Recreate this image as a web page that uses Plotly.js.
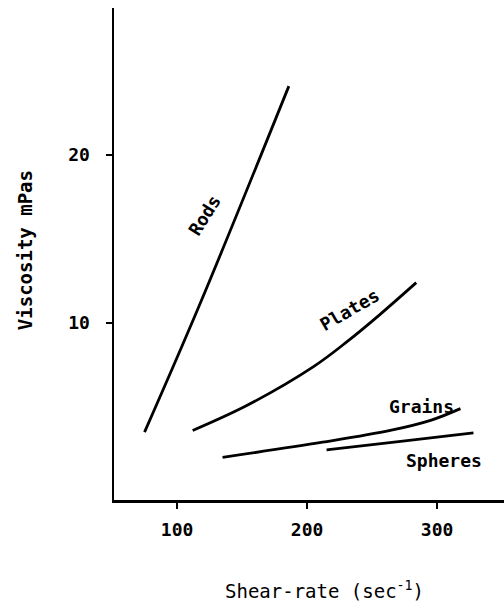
<!DOCTYPE html>
<html>
<head>
<meta charset="utf-8">
<script src="https://cdn.plot.ly/plotly-3.0.1.min.js"></script>
<style>
  html, body { margin: 0; padding: 0; background: #fff; }
  #chart { width: 504px; height: 607px; }
</style>
</head>
<body>
<div id="chart"></div>
<script>
// Viscosity against shear-rate for suspensions of differently shaped particles
const rodsX = [75, 118, 186];
const rodsY = [3.5, 11.2, 24.1];

const platesX = [112, 154, 205, 231, 256, 284];
const platesY = [3.6, 5.1, 7.4, 8.9, 10.5, 12.4];

const grainsX = [135, 212, 264, 295, 318];
const grainsY = [2.0, 2.9, 3.6, 4.2, 4.9];

const spheresX = [215, 272, 328];
const spheresY = [2.45, 2.95, 3.45];

const xTicks = [100, 200, 300];
const yTicks = [10, 20];

// curve labels: text, anchor point, rotation
const curveLabels = [
  { text: 'Rods',    x: 121, y: 16.4, angle: -58 },
  { text: 'Plates',  x: 233, y: 10.8, angle: -30 },
  { text: 'Grains',  x: 288, y: 5.0,  angle: 0 },
  { text: 'Spheres', x: 305, y: 1.8,  angle: 0 }
];

const FONT = 'DejaVu Sans Mono, monospace';
const ink = '#000';
const lineStyle = { color: ink, width: 2.8, shape: 'spline', smoothing: 1 };

const series = [
  [rodsX, rodsY], [platesX, platesY], [grainsX, grainsY], [spheresX, spheresY]
];
const traces = series.map(([x, y]) => ({
  x: x, y: y, type: 'scatter', mode: 'lines',
  line: lineStyle, hoverinfo: 'skip', showlegend: false
}));

const annotations = curveLabels.map(l => ({
  text: '<b>' + l.text + '</b>', x: l.x, y: l.y, xref: 'x', yref: 'y',
  showarrow: false, textangle: l.angle,
  font: { family: FONT, size: 18, color: ink }
}));

annotations.push({
  text: 'Shear-rate (sec<sup>-1</sup>)', xref: 'paper', yref: 'paper',
  x: 0.541, y: -0.183, xanchor: 'center', yanchor: 'middle', showarrow: false,
  font: { family: FONT, size: 19, color: ink }
});
annotations.push({
  text: '<b>Viscosity mPas</b>', xref: 'paper', yref: 'paper',
  x: -0.228, y: 0.508, xanchor: 'center', yanchor: 'middle',
  showarrow: false, textangle: -90,
  font: { family: FONT, size: 19, color: ink }
});

const axisCommon = {
  showgrid: false, zeroline: false, showline: true,
  linecolor: ink, linewidth: 2.5,
  ticks: 'outside', ticklen: 6, tickwidth: 1.5, tickcolor: ink,
  tickfont: { family: FONT, size: 18, color: ink, weight: 'bold' }
};

const layout = {
  width: 504, height: 607,
  margin: { l: 114, r: 0, t: 8, b: 107 },
  paper_bgcolor: '#fff', plot_bgcolor: '#fff',
  showlegend: false,
  xaxis: Object.assign({}, axisCommon, {
    range: [51.5, 351.5], tickvals: xTicks, ticktext: xTicks.map(String),
    ticklabelstandoff: 6
  }),
  yaxis: Object.assign({}, axisCommon, {
    range: [-0.54, 28.75], tickvals: yTicks, ticktext: yTicks.map(String),
    ticklabelstandoff: 12
  }),
  annotations: annotations
};

Plotly.newPlot('chart', traces, layout, { staticPlot: true, displayModeBar: false });
</script>
</body>
</html>
